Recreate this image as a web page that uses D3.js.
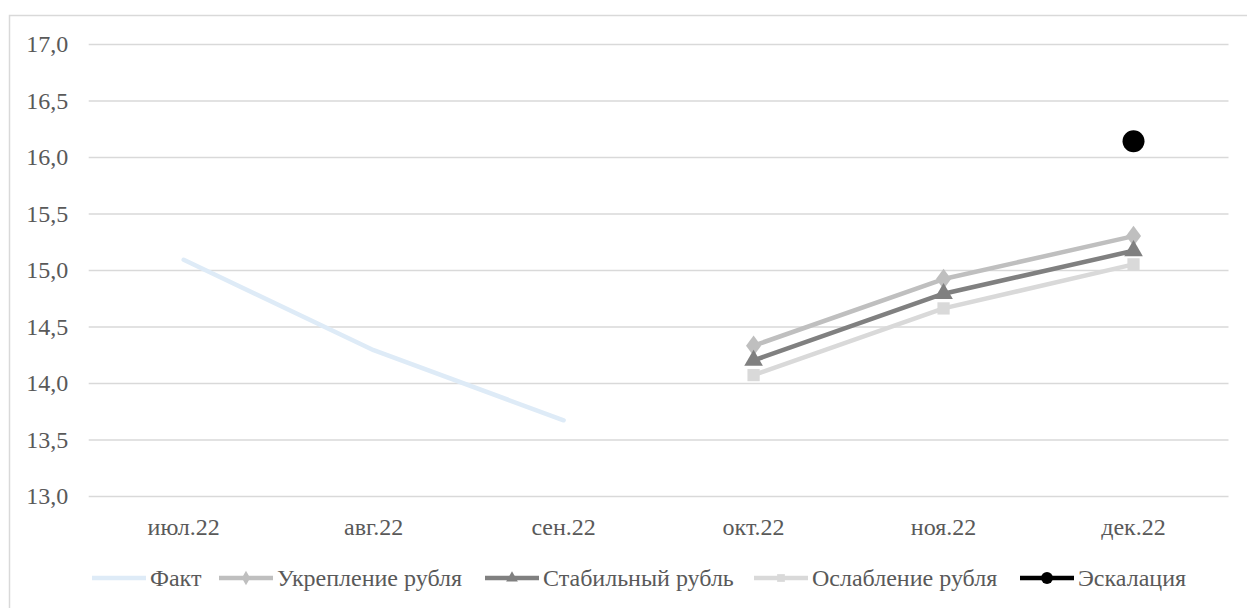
<!DOCTYPE html>
<html><head><meta charset="utf-8">
<script src="https://cdn.jsdelivr.net/npm/d3@7"></script>
</head><body style="margin:0;background:#fff"><svg id="c" width="1247" height="608"></svg>
<script>
const categories = ["июл.22","авг.22","сен.22","окт.22","ноя.22","дек.22"];
const fakt        = [15.09, 14.29, 13.67, null, null, null];
const ukreplenie  = [null, null, null, 14.33, 14.92, 15.30];
const stabilny    = [null, null, null, 14.20, 14.79, 15.17];
const oslablenie  = [null, null, null, 14.07, 14.66, 15.05];
const eskalaciya  = [null, null, null, null, null, 16.14];
const yTicks = [13.0,13.5,14.0,14.5,15.0,15.5,16.0,16.5,17.0];

const svg = d3.select("#c");
const fs = 24;
const TC = "#595959";
const addText = (xx, yy, str, anchor) => svg.append("text")
  .attr("x", xx).attr("y", yy)
  .style("font-family", "\"Liberation Serif\"")
  .attr("font-size", fs).attr("fill", TC)
  .attr("text-anchor", anchor).text(str);

svg.append("rect").attr("x",9.5).attr("y",15.5).attr("width",1260).attr("height",620)
  .attr("fill","none").attr("stroke","#d9d9d9").attr("stroke-width",1.5);

const L=88.7, R=1228.5, T=44, B=496;
const x = d3.scaleBand().domain(categories).range([L,R]);
const y = d3.scaleLinear().domain([13,17]).range([B,T]);
const fmt = v => d3.format(".1f")(v).replace(".",",");

// gridlines via axis (labels drawn separately)
const grid = svg.append("g").attr("transform",`translate(${L},0)`)
  .call(d3.axisLeft(y).tickValues(yTicks).tickSize(-(R-L)).tickFormat(""));
grid.select(".domain").remove();
grid.selectAll("line").attr("stroke","#d9d9d9").attr("stroke-width",1.3);
grid.selectAll("text").remove();

yTicks.forEach(v => addText(L - 20.5, y(v) + 8, fmt(v), "end"));
const cx = c => x(c)+x.bandwidth()/2;
categories.forEach(c => addText(cx(c), 535, c, "middle"));

const series = [
  {name:"Факт", data:fakt, color:"#deebf7", w:4.5, marker:null},
  {name:"Укрепление рубля", data:ukreplenie, color:"#bfbfbf", w:4.5, marker:"diamond"},
  {name:"Стабильный рубль", data:stabilny, color:"#808080", w:4.5, marker:"triangle"},
  {name:"Ослабление рубля", data:oslablenie, color:"#d9d9d9", w:4.5, marker:"square"},
  {name:"Эскалация", data:eskalaciya, color:"#000000", w:4.5, marker:"circle"}
];
const symType = {diamond:d3.symbolDiamond, triangle:d3.symbolTriangle, square:d3.symbolSquare, circle:d3.symbolCircle};
const symSize = {diamond:150, triangle:150, square:150, circle:380};
const line = d3.line().defined(d=>d.v!=null).x(d=>cx(d.c)).y(d=>y(d.v));
series.forEach(s=>{
  const pts = categories.map((c,i)=>({c, v:s.data[i]}));
  svg.append("path").datum(pts).attr("d",line).attr("fill","none")
    .attr("stroke",s.color).attr("stroke-width",s.w).attr("stroke-linecap","round").attr("stroke-linejoin","round");
  if(s.marker){
    svg.selectAll(null).data(pts.filter(p=>p.v!=null)).enter().append("path")
      .attr("d", d3.symbol().type(symType[s.marker]).size(symSize[s.marker]))
      .attr("transform",p=>`translate(${cx(p.c)},${y(p.v)})${s.marker==="diamond"?" scale(1.15,0.9)":""}`)
      .attr("fill",s.color);
  }
});

const legX = [92, 219, 485, 754, 1020];
const legY = 578;
series.forEach((s,i)=>{
  svg.append("line").attr("x1",legX[i]).attr("x2",legX[i]+54).attr("y1",legY).attr("y2",legY)
    .attr("stroke",s.color).attr("stroke-width",s.w);
  if(s.marker){
    const sz = {diamond:60, triangle:60, square:60, circle:110}[s.marker];
    svg.append("path").attr("d",d3.symbol().type(symType[s.marker]).size(sz))
      .attr("transform",`translate(${legX[i]+27},${legY})`).attr("fill",s.color);
  }
  addText(legX[i]+58, legY+8, s.name, "start");
});
</script></body></html>
